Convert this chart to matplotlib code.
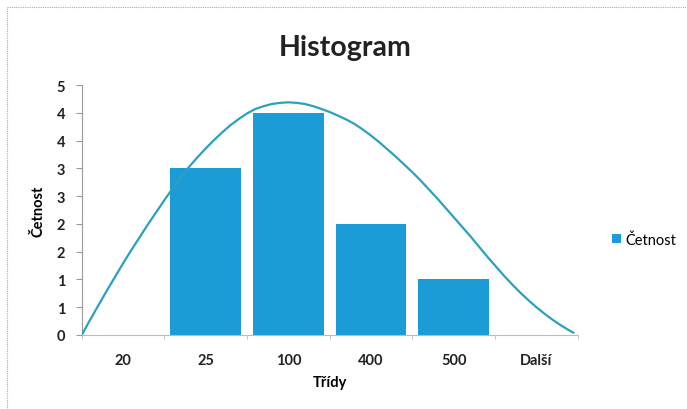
import matplotlib
matplotlib.use("Agg")
import matplotlib.pyplot as plt
from matplotlib.patches import Rectangle
from matplotlib.ticker import FixedLocator, NullFormatter

# Histogram data
categories = ["20", "25", "100", "400", "500", "Další"]
counts = [0, 3, 4, 2, 1, 0]

# y ticks every 0.5, labelled with whole-number formatting
y_ticks = [0, 0.5, 1, 1.5, 2, 2.5, 3, 3.5, 4, 4.5]
y_tick_labels = ["0", "1", "1", "2", "2", "3", "3", "4", "4", "5"]

# Trend curve drawn over the bars (category-index x, count y)
curve_x = [-0.5, -0.4, -0.3, -0.2, -0.1, 0.0, 0.1, 0.2, 0.3, 0.4, 0.5, 0.6,
           0.7, 0.8, 0.9, 1.0, 1.1, 1.2, 1.3, 1.4, 1.5, 1.6, 1.7, 1.8, 1.9,
           2.0, 2.1, 2.2, 2.3, 2.4, 2.5, 2.6, 2.7, 2.8, 2.9, 3.0, 3.1, 3.2,
           3.3, 3.4, 3.5, 3.6, 3.7, 3.8, 3.9, 4.0, 4.1, 4.2, 4.3, 4.4, 4.5,
           4.6, 4.7, 4.8, 4.9, 5.0, 5.1, 5.2, 5.3, 5.4, 5.45]
curve_y = [0.00, 0.27, 0.53, 0.79, 1.04, 1.29, 1.53, 1.76, 1.99, 2.21, 2.43,
           2.64, 2.84, 3.03, 3.20, 3.36, 3.51, 3.65, 3.78, 3.89, 3.99, 4.07,
           4.12, 4.16, 4.18, 4.19, 4.18, 4.16, 4.12, 4.07, 4.015, 3.95, 3.88,
           3.80, 3.70, 3.59, 3.47, 3.34, 3.21, 3.07, 2.93, 2.78, 2.62, 2.46,
           2.29, 2.12, 1.95, 1.78, 1.60, 1.42, 1.25, 1.08, 0.92, 0.77, 0.63,
           0.50, 0.38, 0.27, 0.17, 0.08, 0.04]

bar_color = "#1b9cd6"
curve_color = "#2ba0bf"
plt.rcParams["font.family"] = ["Lato", "DejaVu Sans"]

fig = plt.figure(figsize=(6.87, 4.10), dpi=100)
ax = fig.add_axes([0.119, 0.1805, 0.722, 0.6095])

x = list(range(len(categories)))
ax.bar(x, counts, width=0.855, color=bar_color, zorder=2, label="Četnost")
ax.plot(curve_x, curve_y, color=curve_color, lw=1.6, zorder=3,
        solid_joinstyle="round", solid_capstyle="round")

ax.set_xlim(-0.5, len(categories) - 0.5)
ax.set_ylim(0, 4.5)

ax.set_yticks(y_ticks)
ax.set_yticklabels(y_tick_labels, fontsize=10.5, fontweight="bold", color="#222222")
ax.set_xticks(x)
ax.set_xticklabels(categories, fontsize=10.5, fontweight="bold", color="#222222")
ax.tick_params(axis="x", length=0, pad=13)
ax.tick_params(axis="y", length=4, color="#999999", pad=8)

# category boundary ticks on the x axis
ax.xaxis.set_minor_locator(FixedLocator([i + 0.5 for i in range(-1, len(categories))]))
ax.xaxis.set_minor_formatter(NullFormatter())
ax.tick_params(axis="x", which="minor", length=3, color="#bbbbbb")

for side in ("top", "right"):
    ax.spines[side].set_visible(False)
ax.spines["left"].set_color("#999999")
ax.spines["bottom"].set_color("#bbbbbb")

ax.set_xlabel("Třídy", fontsize=10.5, fontweight="bold", labelpad=6)
ax.set_ylabel("Četnost", fontsize=10.5, fontweight="bold", labelpad=8)

fig.text(0.502, 0.882, "Histogram", ha="center", va="center",
         fontsize=20.5, fontweight="bold", color="#222222")

fig.legend(loc="center left", bbox_to_anchor=(0.872, 0.413), frameon=False,
           fontsize=10.5, handlelength=0.6, handleheight=0.6, handletextpad=0.3)

# chart area border
fig.patches.append(Rectangle((0.010, -0.05), 1.2, 1.03, transform=fig.transFigure,
                             fill=False, edgecolor="#aaaaaa", lw=0.8, ls=(0, (1, 1))))

fig.savefig("out.png", dpi=100)
